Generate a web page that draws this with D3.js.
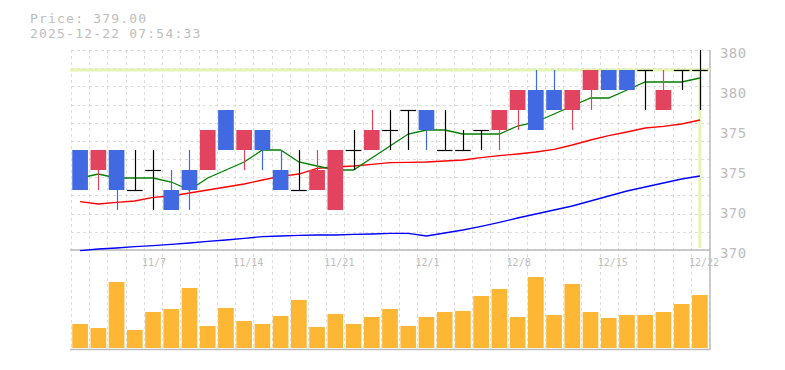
<!DOCTYPE html>
<html>
<head>
<meta charset="utf-8">
<script src="https://cdn.jsdelivr.net/npm/d3@7"></script>
<style>
  html, body { margin: 0; padding: 0; background: #fff; }
  #chart { width: 785px; height: 370px; }
  text { font-family: "DejaVu Sans Mono", "Liberation Mono", monospace; fill: #bdbdbd; }
</style>
</head>
<body>
<div id="chart"></div>
<script>
const dates = ["10/31","11/4","11/5","11/6","11/7","11/10","11/11","11/12","11/13","11/14",
  "11/17","11/18","11/19","11/20","11/21","11/25","11/26","11/27","11/28","12/1",
  "12/2","12/3","12/4","12/5","12/8","12/9","12/10","12/11","12/12","12/15",
  "12/16","12/17","12/18","12/19","12/22"];
const labelDates = ["11/7","11/14","11/21","12/1","12/8","12/15","12/22"];

const open  = [375,374,375,373,374,373,374,374,377,375,376,374,373,373,372,375,375,376,377,377,375,375,376,376,377,378,378,377,378,379,379,379,377,379,379];
const high  = [375,375,375,375,375,374,375,376,377,376,376,375,375,375,375,376,377,377,377,377,377,376,376,377,378,379,379,378,379,379,379,379,379,379,380];
const low   = [373,373,372,373,372,372,372,374,375,374,374,373,373,373,372,374,375,375,375,375,375,375,375,375,376,376,377,376,377,378,378,377,377,378,377];
const close = [373,375,373,373,374,372,373,376,375,376,375,373,373,374,375,375,376,376,377,376,375,375,376,377,378,376,377,378,379,378,378,379,378,379,379];

const ma5  = [373.6,373.8,373.6,373.6,373.6,373.4,373.0,373.6,374.0,374.4,375.0,375.0,374.4,374.2,374.0,374.0,374.6,375.2,375.8,376.0,376.0,375.8,375.8,375.8,376.2,376.4,376.8,377.2,377.6,377.6,378.0,378.4,378.4,378.4,378.6];
const ma25 = [372.42,372.3,372.38,372.45,372.63,372.7,372.85,373.0,373.15,373.3,373.5,373.68,373.8,374.08,374.15,374.2,374.28,374.37,374.38,374.4,374.45,374.5,374.62,374.72,374.8,374.9,375.03,375.25,375.5,375.72,375.9,376.1,376.18,376.3,376.5];
const ma75 = [369.97,370.05,370.1,370.17,370.22,370.28,370.35,370.43,370.5,370.58,370.67,370.7,370.73,370.75,370.75,370.78,370.8,370.83,370.83,370.7,370.85,371.0,371.18,371.38,371.6,371.8,372.0,372.2,372.45,372.7,372.95,373.15,373.35,373.55,373.7];

const volume = [24,20,66,18,36,39,60,22,40,27,24,32,48,21,34,24,31,39,22,31,36,37,52,59,31,71,33,64,36,30,33,33,36,44,53];

const priceTicks = [380,378,376,374,372,370];
const priceTickLabels = ["380","380","375","375","370","370"];
const lastPrice = 379;
const stamp = "2025-12-22 07:54:33";

const W = 785, H = 370;
const plotL = 71, plotR = 709, plotT = 50, mainBottom = 250, volBottom = 348;

const svg = d3.select("#chart").append("svg")
  .attr("width", W).attr("height", H);

const idx = d3.range(dates.length);
const x = d3.scaleBand().domain(idx).range([plotL, plotR]).paddingInner(0.14).paddingOuter(0.07);
const step = x.step();
const cx = i => x(i) + x.bandwidth() / 2;
const y = d3.scaleLinear().domain([370, 380]).range([mainBottom, plotT]);
const yv = d3.scaleLinear().domain([0, 100]).range([volBottom, volBottom - 100]);

// grid
const grid = svg.append("g").attr("stroke", "#ddd").attr("stroke-dasharray", "3,3");
const gx = idx.map(i => x(i) - step * 0.07).concat([plotR]);
grid.selectAll("line.v").data(gx).join("line")
  .attr("x1", d => Math.round(d) + 0.5).attr("x2", d => Math.round(d) + 0.5)
  .attr("y1", plotT).attr("y2", volBottom + 1);
grid.selectAll("line.h").data(d3.range(12)).join("line")
  .attr("x1", plotL).attr("x2", plotR)
  .attr("y1", d => Math.round(plotT + d * (mainBottom - plotT) / 11) + 0.5)
  .attr("y2", d => Math.round(plotT + d * (mainBottom - plotT) / 11) + 0.5);

// borders
const border = svg.append("g").attr("stroke", "#bbb").attr("stroke-width", 1.5);
border.append("line").attr("x1", 70).attr("x2", 710).attr("y1", mainBottom).attr("y2", mainBottom);
border.append("line").attr("x1", 70).attr("x2", 710).attr("y1", volBottom + 1.5).attr("y2", volBottom + 1.5);
border.append("line").attr("x1", 710).attr("x2", 710).attr("y1", plotT).attr("y2", volBottom + 2);

// crosshair at last price
const last = dates.length - 1;
svg.append("line").attr("x1", 70).attr("x2", 710)
  .attr("y1", y(lastPrice)).attr("y2", y(lastPrice))
  .attr("stroke", "#e4f4b2").attr("stroke-width", 3);
svg.append("line").attr("x1", cx(last)).attr("x2", cx(last))
  .attr("y1", y(lastPrice)).attr("y2", mainBottom - 2)
  .attr("stroke", "#e4f4b2").attr("stroke-width", 3);

// moving averages
const line = d3.line().x((d, i) => cx(i)).y(d => y(d));
[[ma75, "#0000ff"], [ma25, "#ff0000"], [ma5, "#008000"]].forEach(([s, c]) => {
  svg.append("path").datum(s).attr("d", line)
    .attr("fill", "none").attr("stroke", c).attr("stroke-width", 1.3);
});

// candles
const up = "#e2435e", down = "#4169e1";
const candles = svg.append("g").selectAll("g").data(idx).join("g");
candles.append("line")
  .attr("x1", i => Math.round(cx(i)) + 0.5).attr("x2", i => Math.round(cx(i)) + 0.5)
  .attr("y1", i => y(high[i])).attr("y2", i => y(low[i]))
  .attr("stroke", i => close[i] > open[i] ? up : close[i] < open[i] ? down : "#000")
  .attr("stroke-width", 1.2);
candles.filter(i => close[i] !== open[i]).append("rect")
  .attr("x", i => x(i)).attr("width", x.bandwidth())
  .attr("y", i => y(Math.max(open[i], close[i])))
  .attr("height", i => Math.abs(y(open[i]) - y(close[i])))
  .attr("fill", i => close[i] > open[i] ? up : down);
candles.filter(i => close[i] === open[i]).append("line")
  .attr("x1", i => x(i)).attr("x2", i => x(i) + x.bandwidth())
  .attr("y1", i => y(open[i]) + 0.5).attr("y2", i => y(open[i]) + 0.5)
  .attr("stroke", "#000").attr("stroke-width", 1.2);

// volume
svg.append("g").selectAll("rect").data(idx).join("rect")
  .attr("x", i => x(i)).attr("width", x.bandwidth())
  .attr("y", i => yv(volume[i])).attr("height", i => volBottom - yv(volume[i]))
  .attr("fill", "#fdb734");

// price axis labels
svg.append("g").selectAll("text").data(priceTicks).join("text")
  .attr("x", 720).attr("y", d => y(d) + 8)
  .attr("font-size", 14).attr("letter-spacing", 0.4)
  .text((d, i) => priceTickLabels[i]);

// date labels
svg.append("g").selectAll("text").data(labelDates).join("text")
  .attr("x", d => cx(dates.indexOf(d)) - 11).attr("y", 266)
  .attr("font-size", 10)
  .text(d => d);

// header
svg.append("text").attr("x", 30).attr("y", 22.5).attr("font-size", 13).attr("letter-spacing", 1.2)
  .text("Price: " + lastPrice.toFixed(2));
svg.append("text").attr("x", 30).attr("y", 37.5).attr("font-size", 13).attr("letter-spacing", 1.2)
  .text(stamp);
</script>
</body>
</html>
